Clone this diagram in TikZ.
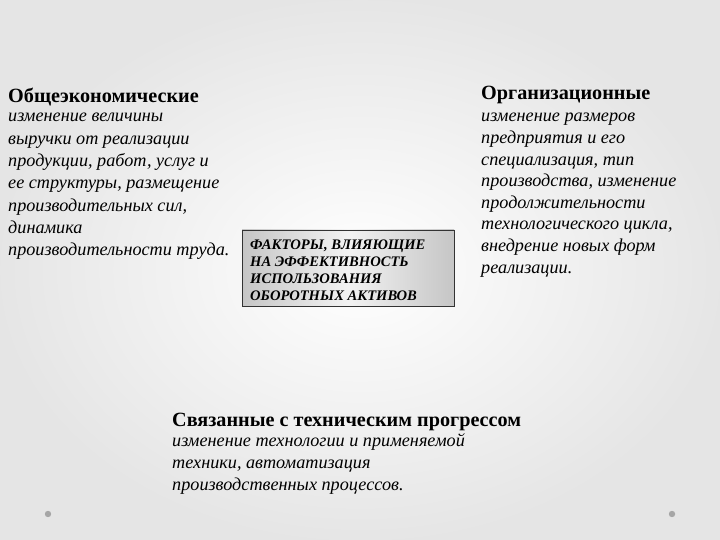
\documentclass[tikz,border=0pt]{standalone}
\usepackage{fontspec}
\setmainfont{Liberation Serif}
\begin{document}
\begin{tikzpicture}[x=1pt,y=1pt,
  head/.style={inner sep=0pt, anchor=base west, font=\fontsize{20.2}{22}\selectfont\bfseries},
  body/.style={inner sep=0pt, anchor=base west, font=\fontsize{18.2}{22}\selectfont\itshape},
  boxtxt/.style={inner sep=0pt, anchor=base west, font=\fontsize{14.6}{17}\selectfont\bfseries\itshape},
  dot/.style={fill=gray!70, draw=none}]
\useasboundingbox (0,0) rectangle (720,540);
\shade[inner color=white, outer color=gray!20] (0,0) rectangle (720,540);
% central box
\shade[left color=gray!45, right color=gray!45, middle color=gray!10, draw=black!80, line width=0.6pt]
  (242,234) rectangle (454,310);
\node[draw=none, inner sep=0pt, minimum width=212pt, minimum height=76pt] (box) at (348,272) {};
\foreach \t [count=\i] in {{ФАКТОРЫ, ВЛИЯЮЩИЕ},{НА ЭФФЕКТИВНОСТЬ},{ИСПОЛЬЗОВАНИЯ},{ОБОРОТНЫХ АКТИВОВ}}
  \node[boxtxt] (B\i) at (250, 290-17*\i+17) {\t};
% left block
\node[head] (LH) at (8,437) {Общеэкономические};
\foreach \t [count=\i] in {{изменение величины},{выручки от реализации},{продукции, работ, услуг и},{ее структуры, размещение},{производительных сил,},{динамика},{производительности труда.}}
  \node[body] (L\i) at (8, 418-22.3*\i+22.3) {\t};
% right block
\node[head] (RH) at (481,440) {Организационные};
\foreach \t [count=\i] in {{изменение размеров},{предприятия и его},{специализация, тип},{производства, изменение},{продолжительности},{технологического цикла,},{внедрение новых форм},{реализации.}}
  \node[body] (R\i) at (481, 418-21.6*\i+21.6) {\t};
% bottom block
\node[head] (BH) at (172,113) {Связанные с техническим прогрессом};
\foreach \t [count=\i] in {{изменение технологии и применяемой},{техники, автоматизация},{производственных процессов.}}
  \node[body] (D\i) at (172, 93-22*\i+22) {\t};
% dots
\fill[dot] (48,26) circle (3.2) coordinate (dotL);
\fill[dot] (672,26) circle (3.2) coordinate (dotR);
\end{tikzpicture}
\end{document}
